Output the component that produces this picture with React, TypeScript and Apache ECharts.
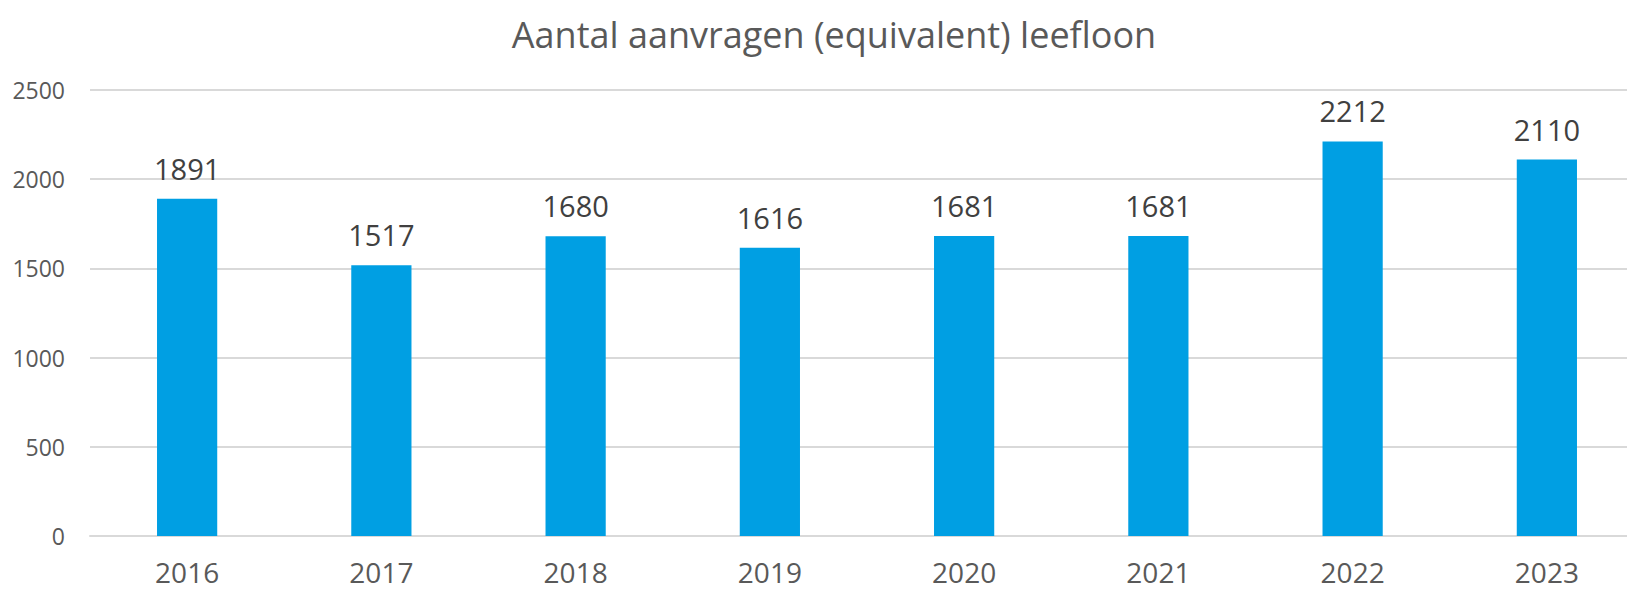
import React, { useEffect, useRef } from "react";
import * as echarts from "echarts";

const TITLE = "Aantal aanvragen (equivalent) leefloon";
const years = ["2016", "2017", "2018", "2019", "2020", "2021", "2022", "2023"];
const aanvragen = [1891, 1517, 1680, 1616, 1681, 1681, 2212, 2110];
const yTicks = { min: 0, max: 2500, interval: 500 };

const FONT = "'Open Sans', 'Noto Sans', sans-serif";

export default function App() {
  const ref = useRef<HTMLDivElement>(null);
  useEffect(() => {
    if (!ref.current) return;
    const chart = echarts.init(ref.current, undefined, { renderer: "svg" });
    chart.setOption({
      animation: false,
      backgroundColor: "#ffffff",
      graphic: [
        {
          type: "text",
          x: 834,
          y: 34,
          style: {
            text: TITLE,
            fill: "#595959",
            font: `36px ${FONT}`,
            textAlign: "center",
            textVerticalAlign: "middle",
          },
        },
      ],
      grid: {
        left: 90,
        width: 1554,
        top: 90,
        bottom: 54,
        containLabel: false,
        outerBoundsMode: "none",
      },
      xAxis: {
        type: "category",
        data: years,
        axisLine: { show: true, lineStyle: { color: "#d9d9d9", width: 2 } },
        axisTick: { show: false },
        axisLabel: {
          color: "#595959",
          fontSize: 28,
          fontFamily: FONT,
          margin: 22,
        },
      },
      yAxis: {
        type: "value",
        min: yTicks.min,
        max: yTicks.max,
        interval: yTicks.interval,
        axisLine: { show: false },
        axisTick: { show: false },
        splitLine: { lineStyle: { color: "#d9d9d9", width: 2 } },
        axisLabel: {
          color: "#595959",
          fontSize: 23,
          fontFamily: FONT,
          margin: 25,
          formatter: (v: number) => String(v),
        },
      },
      series: [
        {
          type: "bar",
          data: aanvragen,
          barWidth: "31%",
          itemStyle: { color: "#009FE3" },
          label: {
            show: true,
            position: "top",
            distance: 16,
            color: "#404040",
            fontSize: 29,
            fontFamily: FONT,
          },
        },
      ],
    });
    return () => chart.dispose();
  }, []);
  return (
    <div
      ref={ref}
      style={{ position: "fixed", left: 0, top: 0, width: 1627, height: 590 }}
    />
  );
}
